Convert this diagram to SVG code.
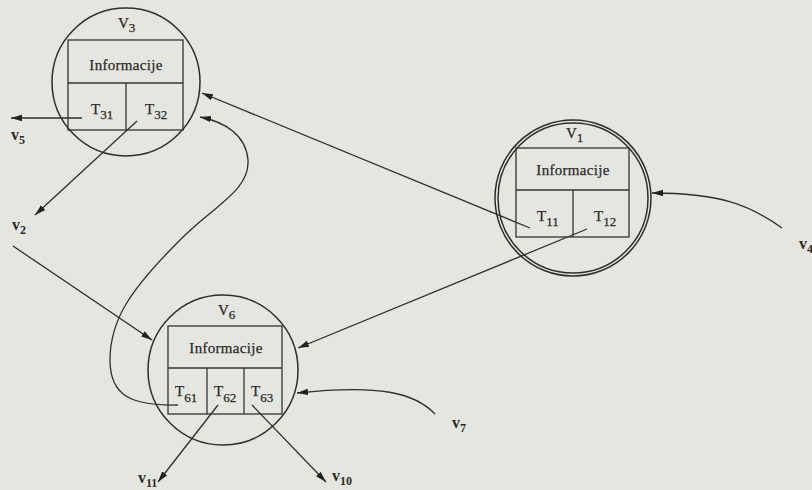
<svg xmlns="http://www.w3.org/2000/svg" width="812" height="490" viewBox="0 0 812 490">
<defs>
<style>
.bg{fill:#e5e6df}
.c{fill:none;stroke:#2e2e2e;stroke-width:1.5}
.b{fill:none;stroke:#333;stroke-width:1.3}
.e{fill:none;stroke:#2e2e2e;stroke-width:1.3}
text{font-family:"Liberation Serif","DejaVu Serif",serif;fill:#2a2a2a;stroke:#2a2a2a;stroke-width:0.25}
.inf{font-size:15px;text-anchor:middle;letter-spacing:0.3px}
.t{font-size:15px}
.s{font-size:13px}
.lab{font-size:16px;font-weight:bold;stroke-width:0}
.ls{font-size:12px;font-weight:bold}
</style>
<marker id="ah" markerWidth="12" markerHeight="8" refX="11" refY="4" orient="auto" markerUnits="userSpaceOnUse">
<path d="M0,0.8 L11,4 L0,7.2 Z" fill="#222"/>
</marker>
</defs>
<rect class="bg" x="0" y="0" width="812" height="490"/>

<g id="connectors">
<path class="e" d="M82,118 L11,118" marker-end="url(#ah)"/>
<path class="e" d="M137,121 L35,215" marker-end="url(#ah)"/>
<path class="e" d="M13,246 L152,340" marker-end="url(#ah)"/>
<path class="e" d="M530,228 L202,93" marker-end="url(#ah)"/>
<path class="e" d="M587,229 L298,348" marker-end="url(#ah)"/>
<path class="e" d="M782,228 C750,205 720,193 652,193" marker-end="url(#ah)"/>
<path class="e" d="M435,414 C415,393 380,384 297,393" marker-end="url(#ah)"/>
<path class="e" d="M178,405 C130,406 110,395 110,360 C110,320 130,290 180,240 C215,205 250,190 248,160 C246,135 225,122 200,117" marker-end="url(#ah)"/>
<path class="e" d="M218,405 L158,482" marker-end="url(#ah)"/>
<path class="e" d="M252,405 L326,482" marker-end="url(#ah)"/>
</g>

<g id="V3">
<circle class="c" cx="126" cy="82" r="74"/>
<rect class="b" x="68" y="40" width="115" height="90"/>
<line class="b" x1="68" y1="83" x2="183" y2="83"/>
<line class="b" x1="126" y1="83" x2="126" y2="130"/>
<text x="118" y="28" class="t">V<tspan class="s" dy="4">3</tspan></text>
<text x="126" y="70" class="inf">Informacije</text>
<text x="91" y="114" class="t">T<tspan class="s" dy="5">31</tspan></text>
<text x="145" y="114" class="t">T<tspan class="s" dy="5">32</tspan></text>
</g>

<g id="V1">
<circle class="c" cx="573" cy="198" r="78"/>
<circle class="c" cx="573" cy="198" r="75" stroke-width="1.2"/>
<rect class="b" x="516" y="148" width="113" height="89"/>
<line class="b" x1="516" y1="190" x2="629" y2="190"/>
<line class="b" x1="573" y1="190" x2="573" y2="237"/>
<text x="566" y="138" class="t">V<tspan class="s" dy="4">1</tspan></text>
<text x="573" y="175" class="inf">Informacije</text>
<text x="537" y="221" class="t">T<tspan class="s" dy="5">11</tspan></text>
<text x="594" y="221" class="t">T<tspan class="s" dy="5">12</tspan></text>
</g>

<g id="V6">
<circle class="c" cx="223" cy="370" r="75"/>
<rect class="b" x="168" y="326" width="114" height="88"/>
<line class="b" x1="168" y1="368" x2="282" y2="368"/>
<line class="b" x1="207" y1="368" x2="207" y2="414"/>
<line class="b" x1="244" y1="368" x2="244" y2="414"/>
<text x="218" y="315" class="t">V<tspan class="s" dy="4">6</tspan></text>
<text x="226" y="353" class="inf">Informacije</text>
<text x="175" y="396" class="t">T<tspan class="s" dy="6">61</tspan></text>
<text x="214" y="396" class="t">T<tspan class="s" dy="6">62</tspan></text>
<text x="251" y="396" class="t">T<tspan class="s" dy="6">63</tspan></text>
</g>

<g id="v5"><text x="11" y="140" class="lab">v<tspan class="ls" dy="4">5</tspan></text></g>
<g id="v2"><text x="12" y="230" class="lab">v<tspan class="ls" dy="4">2</tspan></text></g>
<g id="v4"><text x="799" y="249" class="lab">v<tspan class="ls" dy="4">4</tspan></text></g>
<g id="v7"><text x="452" y="428" class="lab">v<tspan class="ls" dy="4">7</tspan></text></g>
<g id="v11"><text x="138" y="483" class="lab">v<tspan class="ls" dy="4">11</tspan></text></g>
<g id="v10"><text x="332" y="481" class="lab">v<tspan class="ls" dy="4">10</tspan></text></g>
</svg>
